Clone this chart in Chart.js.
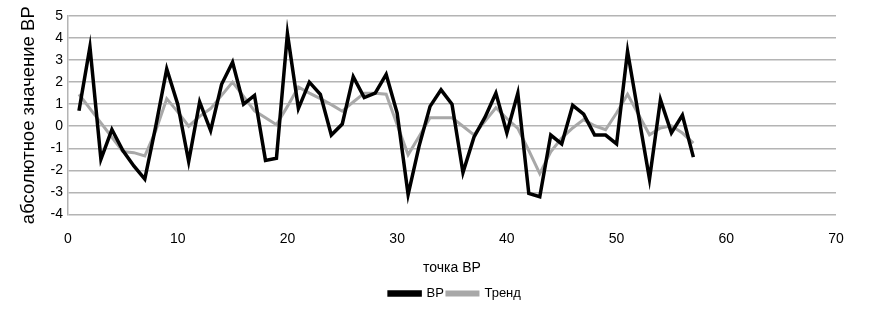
<!DOCTYPE html>
<html>
<head>
<meta charset="utf-8">
<script src="https://cdn.jsdelivr.net/npm/chart.js@4/dist/chart.umd.min.js"></script>
<style>
  body { margin: 0; background: #fff; }
  #wrap { width: 874px; height: 310px; }
</style>
</head>
<body>
<div id="wrap"><canvas id="brChart" width="874" height="310"></canvas></div>
<script>
const points = Array.from({ length: 57 }, (_, i) => i + 1);
const brValues = [
  0.7, 3.6, -1.5, -0.15, -1.1, -1.8, -2.4, 0.0, 2.6, 1.0,
  -1.6, 1.1, -0.2, 1.9, 2.9, 1.0, 1.4, -1.55, -1.45, 4.2,
  0.8, 2.0, 1.45, -0.4, 0.1, 2.25, 1.3, 1.5, 2.35, 0.6,
  -3.1, -0.9, 0.9, 1.65, 1.0, -2.1, -0.5, 0.4, 1.5, -0.3,
  1.5, -3.05, -3.2, -0.4, -0.8, 0.95, 0.55, -0.4, -0.4, -0.8,
  3.4, 0.5, -2.4, 1.2, -0.3, 0.5, -1.4
];
const trendValues = [
  1.45, 0.8, 0.15, -0.5, -1.15, -1.2, -1.35, -0.2, 1.25, 0.65,
  0.0, 0.45, 0.8, 1.4, 2.0, 1.35, 0.7, 0.38, 0.07, 0.9,
  1.78, 1.5, 1.25, 0.98, 0.68, 1.1, 1.5, 1.5, 1.45, 0.07,
  -1.3, -0.47, 0.38, 0.38, 0.38, 0.0, -0.39, 0.22, 0.84, 0.35,
  -0.1, -1.1, -2.15, -1.16, -0.54, -0.08, 0.3, 0.02, -0.16, 0.6,
  1.45, 0.53, -0.39, -0.08, 0.02, -0.31, -0.77
];
const xTicks = [0, 10, 20, 30, 40, 50, 60, 70];
const yTicks = [-4, -3, -2, -1, 0, 1, 2, 3, 4, 5];

const font = { family: 'Arial, "Liberation Sans", sans-serif', size: 14 };
const legendFont = { family: 'Arial, "Liberation Sans", sans-serif', size: 13 };
const titleFont = { family: 'Arial, "Liberation Sans", sans-serif', size: 18.5 };
Chart.defaults.font = font;
Chart.defaults.color = '#000';

// legend in the original sits centred under the plot area, not the whole canvas
const shiftLegend = {
  id: 'shiftLegend',
  afterLayout(chart) {
    chart.legend.left += 28;
    chart.legend.right += 28;
  },
};

new Chart(document.getElementById('brChart'), {
  type: 'line',
  data: {
    datasets: [{
      label: 'ВР',
      data: points.map((p, i) => ({ x: p, y: brValues[i] })),
      borderColor: '#000',
      backgroundColor: '#000',
      borderWidth: 3.5,
      pointRadius: 0,
      tension: 0,
    }, {
      label: 'Тренд',
      data: points.map((p, i) => ({ x: p, y: trendValues[i] })),
      borderColor: '#a8a8a8',
      backgroundColor: '#a8a8a8',
      borderWidth: 3,
      pointRadius: 0,
      tension: 0,
    }],
  },
  plugins: [shiftLegend],
  options: {
    responsive: false,
    animation: false,
    layout: { padding: { top: 16, right: 38, bottom: 0, left: 18 } },
    plugins: {
      legend: {
        position: 'bottom',
        labels: {
          boxWidth: 31,
          boxHeight: 3,
          padding: 3,
          font: legendFont,
          color: '#000',
        },
      },
      tooltip: { enabled: false },
    },
    scales: {
      x: {
        type: 'linear',
        min: 0,
        max: 70,
        afterBuildTicks: s => { s.ticks = xTicks.map(v => ({ value: v })); },
        grid: { display: false, drawTicks: false },
        border: { display: false },
        ticks: { padding: 16, font: font, color: '#000' },
        title: { display: true, text: 'точка ВР', font: font, color: '#000', padding: { top: -3, bottom: 7 } },
      },
      y: {
        min: -4,
        max: 5,
        afterBuildTicks: s => { s.ticks = yTicks.map(v => ({ value: v })); },
        afterFit: s => { s.width = 50; },
        grid: { color: '#b4b4b4', lineWidth: 1.5, drawTicks: false },
        border: { display: true, color: '#b4b4b4', width: 1.5 },
        ticks: { padding: 5, font: font, color: '#000' },
        title: { display: true, text: 'абсолютное значение ВР', font: titleFont, color: '#000', padding: 0 },
      },
    },
  },
});
</script>
</body>
</html>
